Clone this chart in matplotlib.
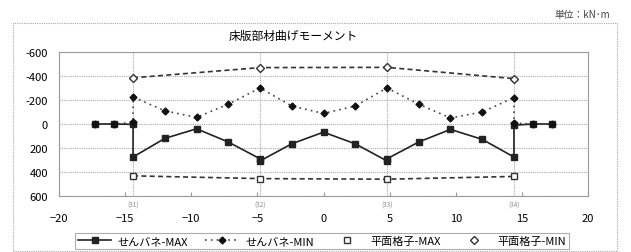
import matplotlib
matplotlib.use("Agg")
import matplotlib.pyplot as plt
from matplotlib.lines import Line2D
from matplotlib.patches import Rectangle

plt.rcParams['font.family'] = ['Noto Sans CJK JP', 'DejaVu Sans']

# ---- data ----
x_sb_max = [-17.3, -15.85, -14.4, -14.4, -12.0, -9.6, -7.2, -4.8, -4.8, -2.4, 0.0, 2.4,
            4.8, 4.8, 7.2, 9.6, 12.0, 14.4, 14.4, 15.85, 17.3]
y_sb_max = [0, 0, 3, 275, 120, 40, 150, 290, 308, 165, 68, 165,
            308, 290, 150, 45, 128, 275, 10, 0, 0]

x_sb_min = [-17.3, -15.85, -14.4, -14.4, -12.0, -9.6, -7.2, -4.8, -2.4, 0.0, 2.4,
            4.8, 7.2, 9.6, 12.0, 14.4, 14.4, 15.85, 17.3]
y_sb_min = [0, 0, -15, -225, -110, -55, -165, -300, -150, -88, -150,
            -300, -165, -50, -100, -220, -8, 0, 0]

x_grid = [-14.4, -4.8, 4.8, 14.4]
y_hk_max = [432, 455, 460, 437]
y_hk_min = [-385, -470, -472, -378]
support_labels = ["(31)", "(32)", "(33)", "(34)"]

labels = ["せんバネ-MAX", "せんバネ-MIN", "平面格子-MAX", "平面格子-MIN"]
title = "床版部材曲げモーメント"
unit = "単位：kN･m"

# ---- figure ----
fig = plt.figure(figsize=(6.31, 2.53), dpi=100)
ax = fig.add_axes([59/631, 1-197/253, (588-59)/631, (197-53)/253])

ax.set_xlim(-20, 20)
ax.set_ylim(600, -600)
ax.set_xticks(range(-20, 21, 5))
ax.set_yticks(range(-600, 601, 200))
ax.set_yticklabels([str(v) for v in range(-600, 601, 200)])

for y in range(-400, 601, 200):
    ax.axhline(y, color='#aaaaaa', lw=0.8, ls=(0, (1, 1)), zorder=0)
for xv in x_grid:
    ax.axvline(xv, color='#aaaaaa', lw=0.8, ls=(0, (1, 1)), zorder=0)

for s in ax.spines.values():
    s.set_color('#999999')
    s.set_linewidth(0.8)

ax.tick_params(axis='x', direction='in', length=3, color='#999999', labelsize=8, pad=12)
ax.tick_params(axis='y', length=0, labelsize=8, pad=8)

ax.plot(x_sb_max, y_sb_max, color='#222222', lw=1.2, marker='s', ms=4, zorder=3)
ax.plot(x_sb_min, y_sb_min, color='#444444', lw=1.2, ls=(0, (1, 2.5)), marker='D', ms=3.5,
        mfc='#111111', mec='#111111', zorder=3)
ax.plot(x_grid, y_hk_max, color='#333333', lw=1.2, ls=(0, (3, 2)), marker='s', ms=4.5,
        mfc='white', mec='#333333', zorder=3)
ax.plot(x_grid, y_hk_min, color='#333333', lw=1.2, ls=(0, (3, 2)), marker='D', ms=4.5,
        mfc='white', mec='#333333', zorder=3)

for xv, lab in zip(x_grid, support_labels):
    ax.text(xv, -0.03, lab, transform=ax.get_xaxis_transform(),
            ha='center', va='top', fontsize=4.5, color='#888888')

handles = [
    Line2D([], [], color='#222222', lw=1.2, marker='s', ms=4),
    Line2D([], [], color='#444444', lw=1.2, ls=(0, (1, 2.5)), marker='D', ms=3.5,
           mfc='#111111', mec='#111111'),
    Line2D([], [], ls='none', marker='s', ms=4, mfc='white', mec='#333333'),
    Line2D([], [], ls='none', marker='D', ms=4, mfc='white', mec='#333333'),
]
leg = fig.legend(handles, labels, loc='center', bbox_to_anchor=(322/631, 1-242/253),
                 ncol=4, fontsize=8, frameon=True, fancybox=False, handlelength=3.0,
                 columnspacing=1.5, handletextpad=0.6, borderpad=0.3)
leg.get_frame().set_edgecolor('#999999')
leg.get_frame().set_linewidth(0.8)

fig.text(293/631, 1-36/253, title, ha='center', va='center', fontsize=8.5)
fig.text(610/631, 1-15/253, unit, ha='right', va='center', fontsize=7, color='#444444')

fig.add_artist(Rectangle((13/631, 1-252/253), (617-13)/631, (252-24)/253,
                         transform=fig.transFigure, fill=False, edgecolor='#aaaaaa',
                         lw=0.8, ls=(0, (1, 1))))

fig.savefig("out.png", dpi=100)
